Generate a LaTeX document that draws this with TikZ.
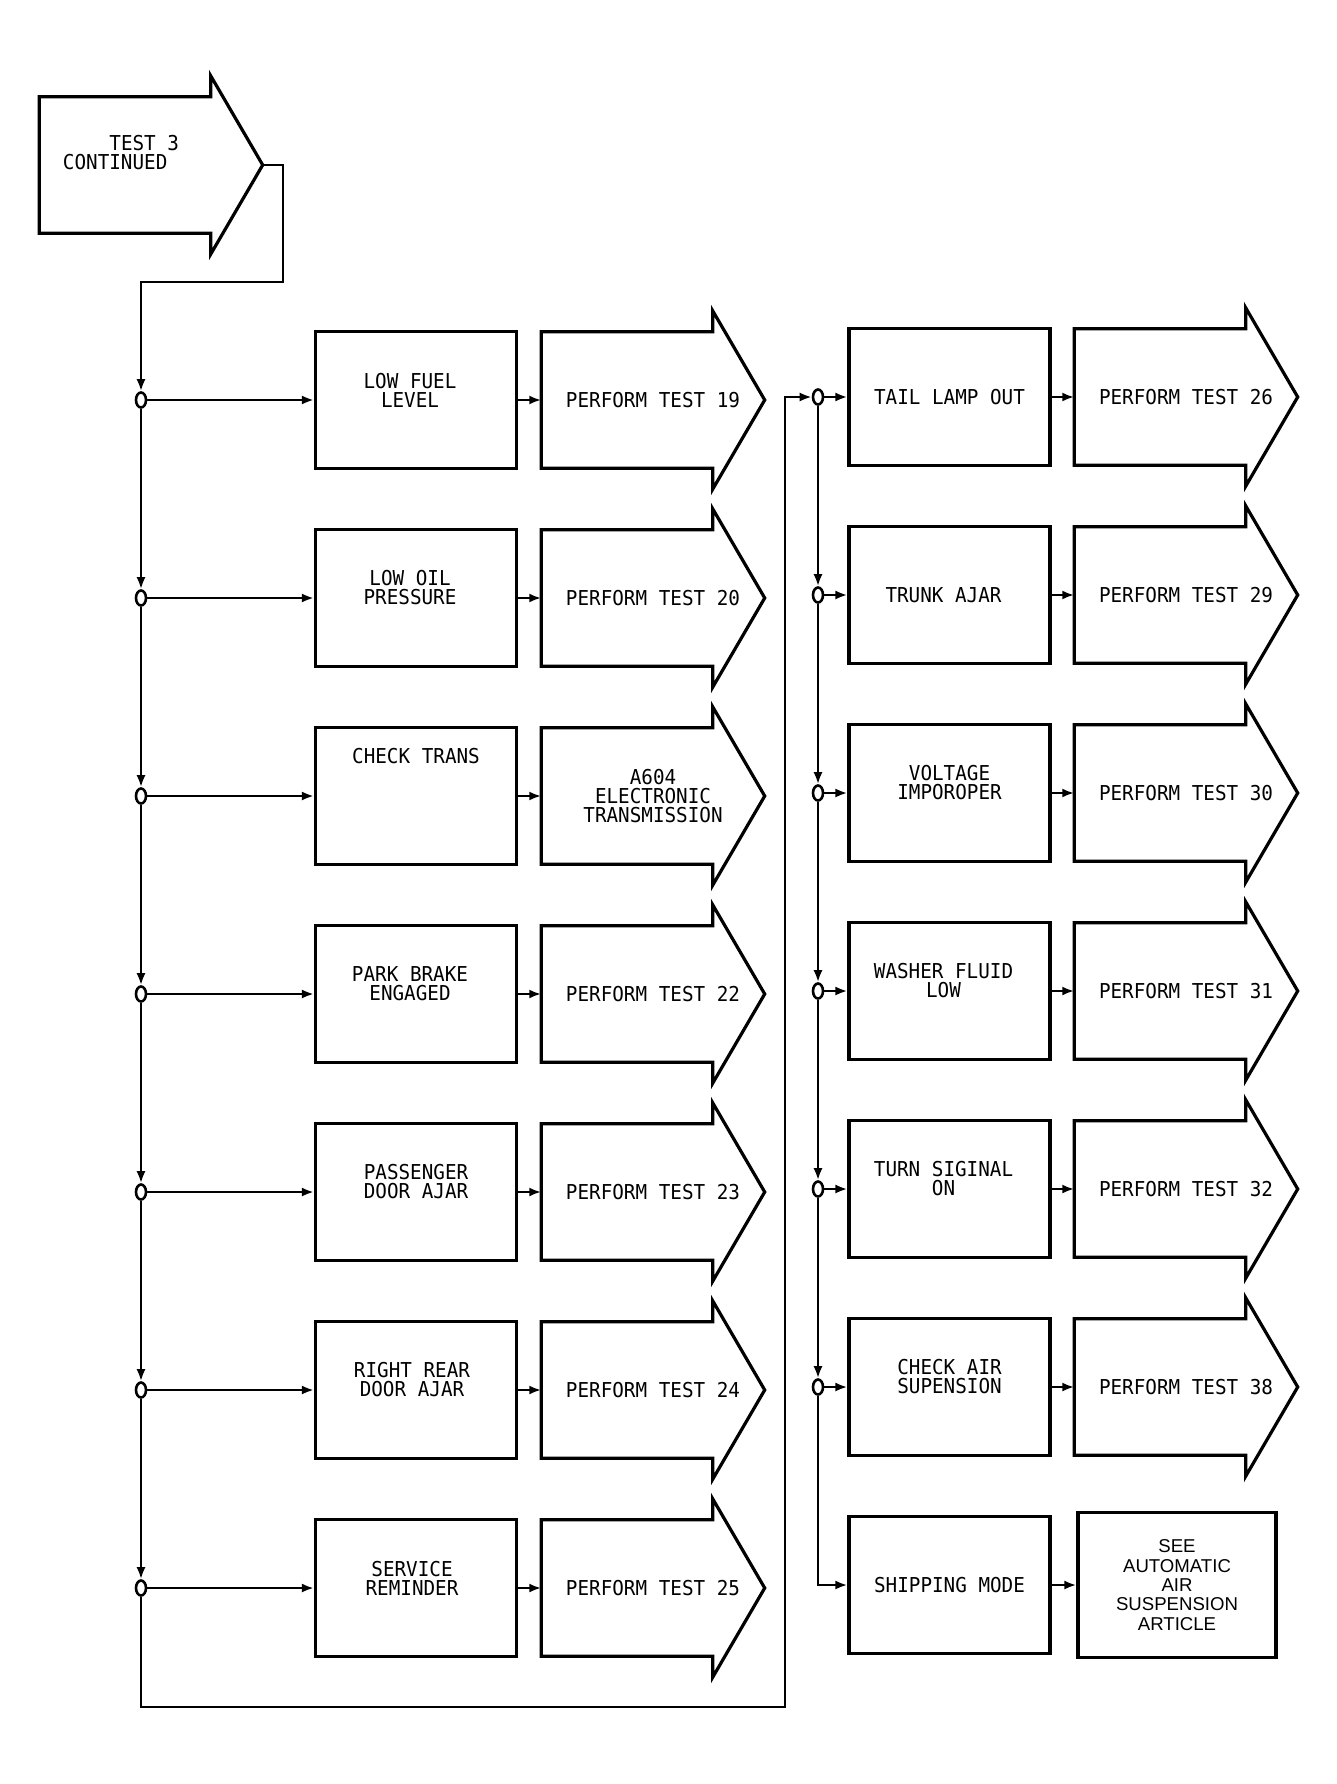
\documentclass[tikz,border=0pt]{standalone}
\usepackage{fontspec}
\usetikzlibrary{arrows.meta,shapes.geometric}
\newfontfamily\plotfont[FakeStretch=0.94]{DejaVu Sans Mono}
\newfontfamily\helvfont{Liberation Sans}
\newcommand{\testarrow}[4]{%
  \node[lbl,minimum width=223pt,minimum height=136pt] (#1) at (#2,#3) {#4};
  \draw[outline] (#1.north west) -- ([xshift=-52pt]#1.north east) -- ++(0,-21)
    -- (#1.east) -- ([xshift=-52pt,yshift=-21pt]#1.south east)
    -- ([xshift=-52pt]#1.south east) -- (#1.south west) -- cycle;}
\begin{document}
\begin{tikzpicture}[x=1pt,y=-1pt]
\tikzstyle{every node}+=[inner sep=0pt]
\tikzstyle{box}=[draw,line width=3.2pt,minimum width=201pt,minimum height=137pt]
\tikzstyle{lbl}=[font=\plotfont\fontsize{20.5}{19}\selectfont,align=center]
\tikzstyle{joint}=[draw,ellipse,line width=2.6pt,minimum width=10pt,minimum height=15pt]
\tikzstyle{wire}=[line width=2.6pt]
\tikzstyle{flow}=[wire,-{Latex[length=12pt,width=9pt]}]
\tikzstyle{outline}=[line width=3.2pt,line join=miter]
\useasboundingbox (0,0) rectangle (1337,1784);
% test 3 continued
\testarrow{t3}{151}{165}{}
\node[lbl,align=left] (t3-t) at (121,153) {\phantom{TEST}TEST 3\\CONTINUED};
% left column
\node[joint] (j1) at (141,400) {};
\node[joint] (j2) at (141,598) {};
\node[joint] (j3) at (141,796) {};
\node[joint] (j4) at (141,994) {};
\node[joint] (j5) at (141,1192) {};
\node[joint] (j6) at (141,1390) {};
\node[joint] (j7) at (141,1588) {};
\node[box] (fuel) at (416,400) {};
\node[lbl] (fuel-t) at ([xshift=-6pt,yshift=10pt]fuel.center) {LOW FUEL\\LEVEL};
\testarrow{t19}{653}{400}{PERFORM TEST 19}
\node[box] (oil) at (416,598) {};
\node[lbl] (oil-t) at ([xshift=-6pt,yshift=10pt]oil.center) {LOW OIL\\PRESSURE};
\testarrow{t20}{653}{598}{PERFORM TEST 20}
\node[box] (trans) at (416,796) {};
\node[lbl] (trans-t) at ([yshift=40pt]trans.center) {CHECK TRANS};
\testarrow{t604}{653}{796}{A604\\ELECTRONIC\\TRANSMISSION}
\node[box] (brake) at (416,994) {};
\node[lbl] (brake-t) at ([xshift=-6pt,yshift=10pt]brake.center) {PARK BRAKE\\ENGAGED};
\testarrow{t22}{653}{994}{PERFORM TEST 22}
\node[box] (door) at (416,1192) {};
\node[lbl] (door-t) at ([yshift=10pt]door.center) {PASSENGER\\DOOR AJAR};
\testarrow{t23}{653}{1192}{PERFORM TEST 23}
\node[box] (rdoor) at (416,1390) {};
\node[lbl] (rdoor-t) at ([xshift=-4pt,yshift=10pt]rdoor.center) {RIGHT REAR\\DOOR AJAR};
\testarrow{t24}{653}{1390}{PERFORM TEST 24}
\node[box] (serv) at (416,1588) {};
\node[lbl] (serv-t) at ([xshift=-4pt,yshift=10pt]serv.center) {SERVICE\\REMINDER};
\testarrow{t25}{653}{1588}{PERFORM TEST 25}
% right column
\node[joint] (r1) at (818,397) {};
\node[joint] (r2) at (818,595) {};
\node[joint] (r3) at (818,793) {};
\node[joint] (r4) at (818,991) {};
\node[joint] (r5) at (818,1189) {};
\node[joint] (r6) at (818,1387) {};
\node[box] (tail) at (949.5,397) {};
\node[lbl] (tail-t) at (tail.center) {TAIL LAMP OUT};
\testarrow{t26}{1186}{397}{PERFORM TEST 26}
\node[box] (trunk) at (949.5,595) {};
\node[lbl] (trunk-t) at ([xshift=-6pt]trunk.center) {TRUNK AJAR};
\testarrow{t29}{1186}{595}{PERFORM TEST 29}
\node[box] (volt) at (949.5,793) {};
\node[lbl] (volt-t) at ([yshift=10pt]volt.center) {VOLTAGE\\IMPOROPER};
\testarrow{t30}{1186}{793}{PERFORM TEST 30}
\node[box] (washer) at (949.5,991) {};
\node[lbl] (washer-t) at ([xshift=-6pt,yshift=10pt]washer.center) {WASHER FLUID\\LOW};
\testarrow{t31}{1186}{991}{PERFORM TEST 31}
\node[box] (turn) at (949.5,1189) {};
\node[lbl] (turn-t) at ([xshift=-6pt,yshift=10pt]turn.center) {TURN SIGINAL\\ON};
\testarrow{t32}{1186}{1189}{PERFORM TEST 32}
\node[box] (air) at (949.5,1387) {};
\node[lbl] (air-t) at ([yshift=10pt]air.center) {CHECK AIR\\SUPENSION};
\testarrow{t38}{1186}{1387}{PERFORM TEST 38}
\node[box] (ship) at (949.5,1585) {};
\node[lbl] (ship-t) at (ship.center) {SHIPPING MODE};
\node[box,minimum width=198pt,minimum height=145pt,align=center,
  font=\helvfont\fontsize{18.6}{19.3}\selectfont] (see) at (1177,1585)
  {SEE\\AUTOMATIC\\AIR\\SUSPENSION\\ARTICLE};
% connectors
\coordinate (k1) at (283,282);
\coordinate (k2) at (141,282);
\draw[flow] (t3.east) -| (k1) -- (k2) -- (j1.north);
\draw[flow] (j1.south) -- (j2.north);
\draw[flow] (j2.south) -- (j3.north);
\draw[flow] (j3.south) -- (j4.north);
\draw[flow] (j4.south) -- (j5.north);
\draw[flow] (j5.south) -- (j6.north);
\draw[flow] (j6.south) -- (j7.north);
\draw[flow] (j1.east) -- (fuel.west);
\draw[flow] (j2.east) -- (oil.west);
\draw[flow] (j3.east) -- (trans.west);
\draw[flow] (j4.east) -- (brake.west);
\draw[flow] (j5.east) -- (door.west);
\draw[flow] (j6.east) -- (rdoor.west);
\draw[flow] (j7.east) -- (serv.west);
\draw[flow] (fuel.east) -- (t19.west);
\draw[flow] (oil.east) -- (t20.west);
\draw[flow] (trans.east) -- (t604.west);
\draw[flow] (brake.east) -- (t22.west);
\draw[flow] (door.east) -- (t23.west);
\draw[flow] (rdoor.east) -- (t24.west);
\draw[flow] (serv.east) -- (t25.west);
\coordinate (k3) at (141,1707);
\coordinate (k4) at (785,1707);
\coordinate (k5) at (785,397);
\draw[flow] (j7.south) -- (k3) -- (k4) -- (k5) -- (r1.west);
\draw[flow] (r1.south) -- (r2.north);
\draw[flow] (r2.south) -- (r3.north);
\draw[flow] (r3.south) -- (r4.north);
\draw[flow] (r4.south) -- (r5.north);
\draw[flow] (r5.south) -- (r6.north);
\draw[flow] (r6.south) |- (ship.west);
\draw[flow] (r1.east) -- (tail.west);
\draw[flow] (r2.east) -- (trunk.west);
\draw[flow] (r3.east) -- (volt.west);
\draw[flow] (r4.east) -- (washer.west);
\draw[flow] (r5.east) -- (turn.west);
\draw[flow] (r6.east) -- (air.west);
\draw[flow] (tail.east) -- (t26.west);
\draw[flow] (trunk.east) -- (t29.west);
\draw[flow] (volt.east) -- (t30.west);
\draw[flow] (washer.east) -- (t31.west);
\draw[flow] (turn.east) -- (t32.west);
\draw[flow] (air.east) -- (t38.west);
\draw[flow] (ship.east) -- (see.west);
\end{tikzpicture}
\end{document}
